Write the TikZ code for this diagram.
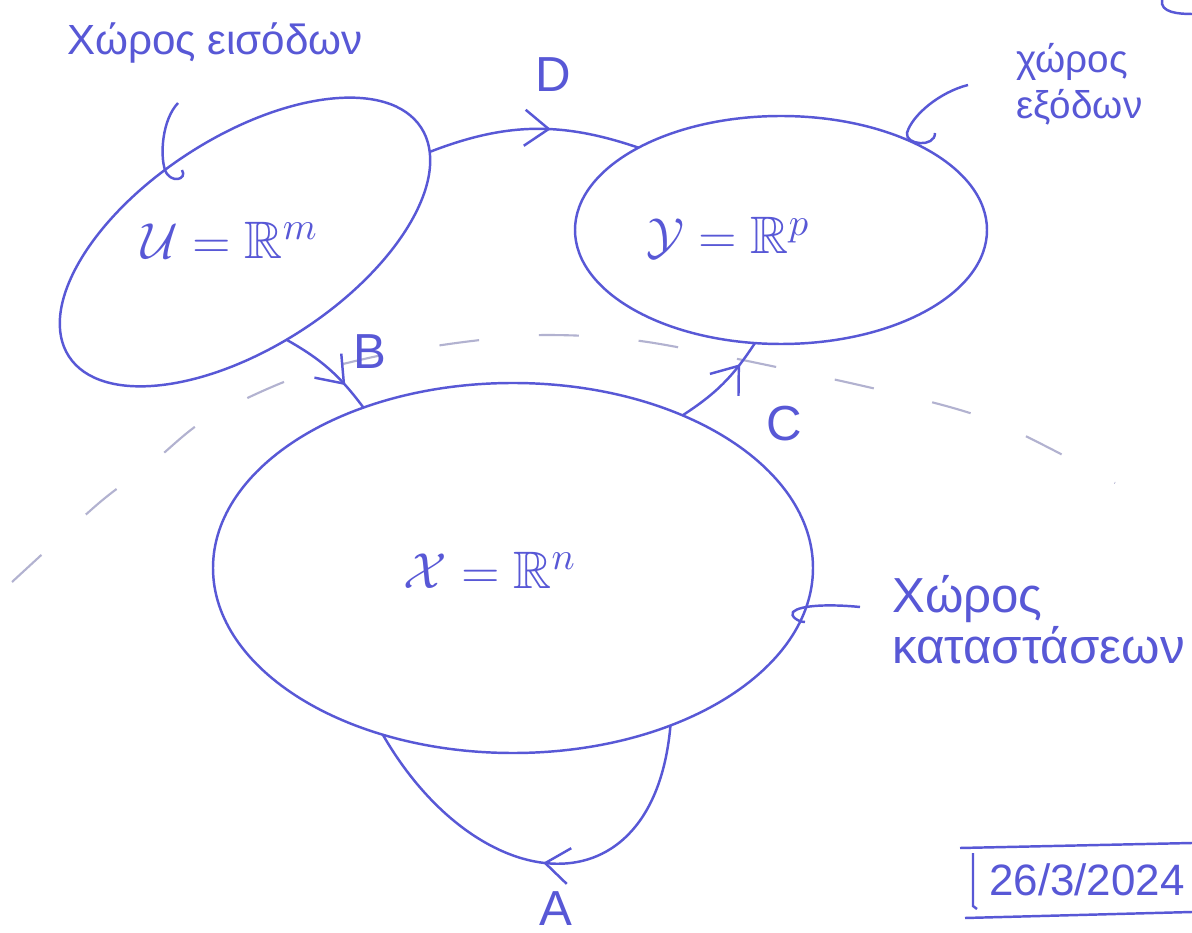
\documentclass[tikz,border=0pt]{standalone}
\usepackage{fontspec}
\setmainfont{Liberation Sans}
\usepackage{amssymb}
\usetikzlibrary{shapes.geometric,arrows.meta,decorations.markings,positioning}
\definecolor{ink}{RGB}{88,88,214}
\definecolor{faint}{RGB}{178,178,208}

\begin{document}
\begin{tikzpicture}[
  space/.style={draw=ink, line width=0.7pt, ellipse, inner sep=0pt, outer sep=0pt},
  pen/.style={draw=ink, line width=0.7pt},
  map/.style={color=ink, line width=0.7pt},
  midarrow/.style={postaction={decorate}, decoration={markings,
    mark=at position #1 with {\arrow{Straight Barb[length=2.4mm,width=3.6mm]}}}},
  lab/.style={text=ink, font=\fontsize{14}{16}\selectfont},
  eqn/.style={text=ink, font=\fontsize{15}{17}\selectfont},
  note/.style={text=ink, inner sep=1pt}
]
\fill[white] (0,0) rectangle (11.92,-9.33);
\useasboundingbox (0,0) rectangle (11.92,-9.33);

% Faint dashed trace
\draw[faint, line width=0.6pt, dash pattern=on 4mm off 6mm] plot[smooth] coordinates {(0.12,-5.82) (0.99,-5.03) (1.52,-4.63) (2.05,-4.20) (2.89,-3.80) (3.73,-3.57) (4.64,-3.42) (5.48,-3.35) (6.54,-3.43) (8.59,-3.85) (9.90,-4.20) (11.15,-4.83)};

% Spaces
\node (inp) [space, minimum width=4.2cm, minimum height=2.1cm, rotate=33] at (2.45,-2.42) {};
\node (out) [space, minimum width=4.12cm, minimum height=2.28cm] at (7.81,-2.30) {};
\node (st) [space, minimum width=6.0cm, minimum height=3.7cm] at (5.13,-5.68) {};

\node (inpeq) [eqn] at (2.30,-2.40) {$\mathcal{U}=\mathbb{R}^{m}$};
\node (outeq) [eqn] at (7.28,-2.38) {$\mathcal{Y}=\mathbb{R}^{p}$};
\node (steq) [eqn] at (4.90,-5.70) {$\mathcal{X}=\mathbb{R}^{n}$};

% Maps
\draw[map, midarrow=0.58] (inp.-7) to[bend left=20] node[lab, pos=0.6, above=2.5mm] (dlab) {D} (out.150);
\draw[map, midarrow=0.72] (inp.-100) to[bend left=12] node[lab, pos=0.2, right=3.5mm] (blab) {B} (st.133);
\draw[map, midarrow=0.75] (st.42) to[bend right=12] node[lab, pos=0.5, below right=1mm and 3mm] (clab) {C} (out.-103);
\draw[map, midarrow=0.5] (st.-45) to[out=-95, in=-60, looseness=1.7] node[lab, pos=0.5, below=1.5mm] (alab) {A} (st.-128);

% Notes
\node (lblin) [note, font=\fontsize{12}{14}\selectfont] at (2.15,-0.43) {Χώρος εισόδων};
\node (lblout) [note, align=left, anchor=west, font=\fontsize{11}{13}\selectfont] at (10.12,-0.84) {χώρος\\εξόδων};
\node (lblst) [note, align=left, anchor=west, font=\fontsize{14}{12}\selectfont] at (8.88,-6.20) {Χώρος\\καταστάσεων};

\draw[pen] (1.78,-1.03) .. controls (1.62,-1.20) and (1.60,-1.55) .. (1.65,-1.70)
  .. controls (1.70,-1.84) and (1.88,-1.80) .. (1.82,-1.70);
\draw[pen] (9.68,-0.85) .. controls (9.40,-0.92) and (9.12,-1.15) .. (9.07,-1.33)
  .. controls (9.05,-1.45) and (9.35,-1.48) .. (9.35,-1.33);
\draw[pen] (8.60,-6.07) .. controls (8.30,-6.04) and (8.00,-6.05) .. (7.93,-6.12)
  .. controls (7.90,-6.16) and (7.98,-6.22) .. (8.05,-6.22);

% Date
\node (date) [note, font=\fontsize{12.5}{14}\selectfont] at (10.87,-8.80) {26/3/2024};
\draw[pen] (9.60,-8.48) -- (11.92,-8.43);
\draw[pen] (9.73,-8.53) -- (9.73,-9.06) -- (9.77,-9.09);
\draw[pen] (9.65,-9.18) -- (11.92,-9.12);

% Corner mark
\draw[pen] (11.62,0) to[out=-100, in=180] (11.92,-0.14);
\end{tikzpicture}
\end{document}
